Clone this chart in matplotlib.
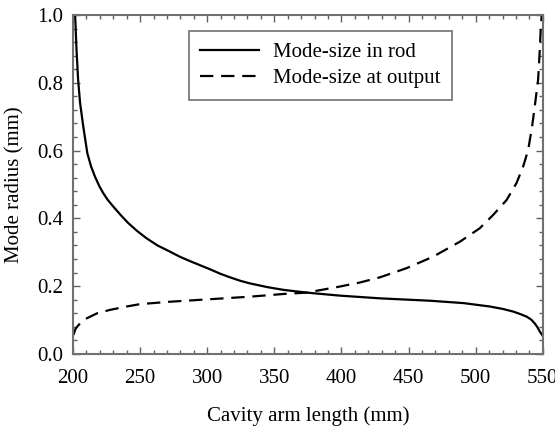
import matplotlib.pyplot as plt
from matplotlib.ticker import MultipleLocator, FormatStrFormatter

# Mode-size in rod (solid)
rod_x = [201.6, 202.6, 203.8, 205.3, 207.7, 210.7, 213.5, 216.4, 219.5, 222.6, 226, 230, 235.5,
         241.2, 248, 254.9, 263, 272.2, 279.5, 287.1, 294.5, 302, 309.5, 317, 324.5, 332, 345,
         357, 374, 399, 429, 466, 491, 510.5, 520, 528, 533, 538, 541.5, 544, 546, 547.8, 549.5]
rod_y = [1.0, 0.9, 0.81, 0.74, 0.67, 0.592, 0.553, 0.523, 0.496, 0.474, 0.454, 0.435, 0.41,
         0.386, 0.362, 0.341, 0.32, 0.302, 0.287, 0.274, 0.262, 0.25, 0.237, 0.226, 0.216, 0.208,
         0.197, 0.189, 0.181, 0.172, 0.164, 0.157, 0.15, 0.14, 0.133, 0.125, 0.118, 0.11, 0.101,
         0.09, 0.079, 0.066, 0.056]

# Mode-size at output (dashed)
out_x = [200.3, 202, 205.2, 210.2, 218, 227.6, 240, 250, 272, 300, 332, 357, 374, 399, 414,
         428.6, 448.5, 468.3, 488.2, 503.1, 513, 523, 530.4, 535.4, 539.1, 542, 544, 546.5,
         547.8, 548.5, 549.2]
out_y = [0.056, 0.075, 0.09, 0.105, 0.12, 0.13, 0.14, 0.147, 0.154, 0.161, 0.169, 0.177, 0.181,
         0.199, 0.211, 0.226, 0.253, 0.287, 0.331, 0.371, 0.41, 0.454, 0.504, 0.553, 0.602, 0.67,
         0.73, 0.808, 0.9, 0.96, 1.0]

plt.rcParams['font.family'] = ['Liberation Serif', 'DejaVu Serif']
plt.rcParams['font.size'] = 15

fig = plt.figure(figsize=(5.55, 4.28), dpi=100)
ax = fig.add_axes([0.1315, 0.173, 0.8465, 0.792])

ax.plot(rod_x, rod_y, color='black', linewidth=1.6, label='Mode-size in rod')
ax.plot(out_x, out_y, color='black', linewidth=1.6, linestyle=(0, (6, 3.5)),
        label='Mode-size at output')

ax.set_xlim(200, 550)
ax.set_ylim(0, 1.0)
ax.xaxis.set_major_locator(MultipleLocator(50))
ax.xaxis.set_minor_locator(MultipleLocator(10))
ax.yaxis.set_major_locator(MultipleLocator(0.2))
ax.yaxis.set_minor_locator(MultipleLocator(0.04))
ax.yaxis.set_major_formatter(FormatStrFormatter('%.1f'))

for s in ax.spines.values():
    s.set_color('#707070')
    s.set_linewidth(1.5)
ax.tick_params(which='both', direction='in', top=True, right=True, color='#606060')
ax.tick_params(which='major', length=5, width=1, labelsize=15)
ax.tick_params(which='minor', length=3, width=1)
ax.tick_params(axis='x', which='major', pad=11)
ax.tick_params(axis='y', which='major', pad=7)

ax.set_xlabel('Cavity arm length (mm)', fontsize=15, labelpad=13)
ax.set_ylabel('Mode radius (mm)', fontsize=15, labelpad=9)

leg = ax.legend(loc='upper right', bbox_to_anchor=(0.807, 0.952), fancybox=False,
                edgecolor='#707070', framealpha=1, handlelength=2.8, fontsize=15,
                borderpad=0.55, labelspacing=0.3, handletextpad=0.7, borderaxespad=0)
leg.get_frame().set_linewidth(1.2)

fig.savefig('out.png', dpi=100)
